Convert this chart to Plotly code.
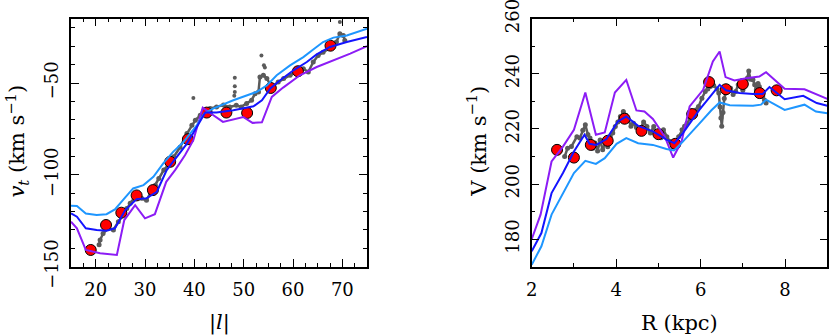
import plotly.graph_objects as go

# Styling
_FONT = "DejaVu Serif"
_GRAY = "#5b5b5b"
_LIGHT_BLUE = "#1e96ff"
_BLUE = "#1414ff"
_PURPLE = "#8c1cf5"
_W, _H = 830, 335

# --- Left panel: v_t vs |l| ---
red_l_x = [19.0, 22.1, 25.2, 28.3, 31.6, 35.1, 38.7, 42.5, 46.5, 50.7, 55.5, 61.0, 67.6]
red_l_y = [-140.9, -127.3, -120.6, -111.2, -108.3, -92.9, -80.6, -66.1, -66.1, -66.3, -52.7, -43.6, -29.7]

lblue_l_x = [15, 16.2, 18.0, 20.2, 22.2, 23.9, 26.0, 27.6, 29.7, 31.7, 33.7, 35.7, 37.8, 40.5, 42.0,
             43.8, 47.9, 50.6, 52.6, 54.7, 56.7, 59.4, 62.1, 64.1, 66.1, 68.2, 70.9, 75]
lblue_l_y = [-116.8, -117.0, -121.0, -121.9, -121.4, -118.8, -112.3, -107.4, -105.6, -101.1, -93.8, -87.5,
             -82.1, -73.0, -66.6, -63.9, -59.4, -56.7, -54.9, -51.3, -45.8, -40.4, -35.9, -31.8, -27.7,
             -25.3, -24.1, -20.4]

blue_l_x = [15, 16.2, 18.0, 20.2, 22.2, 23.9, 26.0, 28.3, 30.3, 32.4, 34.4, 36.5, 38.5, 40.5, 42.2,
            44.5, 47.9, 52.0, 53.7, 55.4, 57.4, 60.1, 62.8, 64.8, 67.5, 70.9, 75]
blue_l_y = [-121.0, -122.8, -129.1, -130.0, -130.4, -129.1, -119.2, -113.2, -112.8, -109.2, -97.4, -90.2,
            -83.0, -73.9, -66.1, -66.1, -64.8, -62.7, -59.4, -53.0, -48.5, -43.1, -38.6, -34.4, -30.4,
            -27.7, -25.0]

purple_l_x = [15, 16.2, 18.0, 20.9, 24.3, 25.8, 28.0, 30.0, 32.0, 34.3, 36.1, 38.1, 39.8, 41.7, 43.2,
              45.8, 49.9, 51.8, 53.7, 55.7, 58.0, 61.4, 64.8, 68.2, 71.6, 75]
purple_l_y = [-125.5, -129.1, -140.9, -142.7, -143.6, -124.6, -116.5, -123.7, -121.4, -103.8, -97.4, -89.3,
              -81.1, -63.4, -66.3, -71.2, -68.5, -71.7, -71.4, -57.6, -52.5, -45.8, -41.3, -37.7, -34.0,
              -30.0]

gray_l_x = [20.7, 20.9, 21.5, 22.6, 23.6, 24.6, 25.6, 26.3, 27.0, 28.0, 29.3, 30.3, 31.1, 32.1, 32.8,
            33.8, 34.7, 35.8, 37.1, 38.5, 39.5, 40.2, 41.2, 43.2, 44.5, 45.9, 47.2, 48.5, 49.5, 50.6,
            51.6, 52.3, 53.0, 53.3, 54.0, 54.7, 55.7, 57.0, 58.1, 59.4, 60.8, 62.1, 63.1, 64.1, 65.1,
            66.1, 67.8, 68.8, 69.5, 70.2, 70.5]
gray_l_y = [-138.0, -135.5, -131.9, -129.0, -130.0, -125.5, -121.9, -118.3, -115.5, -112.0, -112.8, -113.8,
            -110.0, -105.6, -102.0, -97.4, -94.7, -90.2, -85.0, -77.5, -73.0, -70.3, -67.6, -63.9, -63.0,
            -62.0, -63.0, -62.1, -63.0, -61.2, -59.4, -55.8, -54.9, -46.7, -45.8, -47.6, -52.2, -49.5,
            -47.6, -45.8, -44.0, -42.2, -44.0, -38.6, -35.0, -33.2, -30.4, -27.7, -23.2, -24.1, -26.8]

stray_l_x = [39.8, 48.2, 48.2, 48.2, 48.1, 53.6, 54.1, 54.3, 69.5]
stray_l_y = [-58.1, -47.1, -51.8, -54.9, -57.0, -35.0, -40.4, -41.5, -16.8]

# --- Right panel: V vs R ---
red_r_x = [2.6, 3.0, 3.4, 3.8, 4.2, 4.6, 5.0, 5.4, 5.8, 6.2, 6.6, 7.0, 7.4, 7.8]
red_r_y = [212.4, 209.6, 214.2, 215.7, 223.7, 219.3, 218.1, 214.6, 225.4, 237.0, 234.4, 236.3, 233.0, 234.0]

lblue_r_x = [2.0, 2.23, 2.47, 2.74, 3.0, 3.27, 3.52, 3.73, 4.01, 4.24, 4.52, 4.87, 5.19, 5.37, 5.58,
             5.97, 6.25, 6.45, 6.69, 6.92, 7.24, 7.43, 7.55, 7.99, 8.46, 8.73, 9.0]
lblue_r_y = [170.7, 177.4, 188.9, 196.7, 204.0, 208.4, 207.3, 209.4, 214.6, 216.7, 214.8, 214.2, 212.7,
             212.2, 215.4, 221.9, 226.7, 229.6, 228.6, 228.5, 228.4, 228.8, 230.6, 226.9, 228.8, 226.3,
             225.7]

blue_r_x = [2.0, 2.23, 2.47, 2.74, 3.0, 3.25, 3.37, 3.53, 3.77, 4.04, 4.24, 4.52, 4.87, 5.19, 5.38,
            5.58, 5.97, 6.29, 6.45, 6.6, 6.92, 7.24, 7.47, 7.63, 7.99, 8.43, 8.75, 9.0]
blue_r_y = [175.6, 182.2, 196.7, 204.0, 211.8, 217.9, 214.6, 214.2, 216.3, 222.7, 224.5, 221.1, 219.1,
            216.1, 214.8, 218.5, 226.9, 233.0, 236.0, 234.0, 233.0, 232.7, 232.7, 235.2, 230.8, 232.0,
            229.4, 228.4]

purple_r_x = [2.0, 2.21, 2.47, 2.74, 3.0, 3.27, 3.52, 3.73, 3.97, 4.24, 4.48, 4.67, 4.87, 5.15, 5.35,
              5.55, 5.74, 6.06, 6.29, 6.45, 6.59, 6.8, 7.08, 7.39, 7.55, 7.99, 8.46, 9.0]
purple_r_y = [180.0, 188.9, 208.2, 213.6, 219.7, 233.2, 217.9, 218.7, 233.2, 237.8, 226.7, 226.3, 223.6,
              217.3, 209.6, 215.5, 228.2, 234.2, 244.5, 248.1, 238.8, 237.6, 238.4, 239.0, 240.6, 234.6,
              234.4, 230.9]

gray_r_x = [2.78, 2.85, 2.94, 3.07, 3.14, 3.21, 3.27, 3.33, 3.38, 3.45, 3.5, 3.56, 3.62, 3.68, 3.74,
            3.8, 3.86, 3.92, 3.98, 4.04, 4.1, 4.17, 4.23, 4.29, 4.35, 4.41, 4.48, 4.57, 4.65, 4.73,
            4.81, 4.89, 4.95, 5.0, 5.06, 5.12, 5.2, 5.28, 5.34, 5.4, 5.48, 5.56, 5.62, 5.68, 5.76,
            5.83, 5.9, 5.95, 6.03, 6.11, 6.17, 6.23, 6.31, 6.39, 6.43, 6.46, 6.48, 6.5, 6.53, 6.56,
            6.59, 6.65, 6.71, 6.77, 6.83, 6.89, 6.94, 7.0, 7.06, 7.11, 7.14, 7.18, 7.24, 7.28, 7.32,
            7.36, 7.39, 7.43, 7.47, 7.51, 7.55]
gray_r_y = [210.0, 213.0, 213.6, 217.2, 216.7, 219.5, 221.5, 218.0, 216.7, 213.0, 214.9, 212.0, 216.0,
            212.4, 214.8, 213.5, 217.2, 218.5, 220.9, 222.5, 224.5, 226.3, 225.0, 223.3, 221.0, 222.1,
            220.5, 219.7, 222.5, 220.9, 218.5, 220.9, 217.5, 219.0, 216.8, 219.7, 217.2, 215.4, 213.5,
            214.2, 217.2, 219.7, 221.0, 222.1, 223.9, 225.7, 227.0, 228.1, 231.1, 233.6, 234.5, 235.4,
            235.8, 234.5, 233.0, 228.0, 224.0, 221.0, 226.0, 231.0, 233.0, 234.0, 234.8, 232.5, 233.6,
            236.0, 235.4, 234.0, 236.6, 238.5, 241.0, 238.0, 237.8, 236.0, 234.2, 236.5, 235.4, 233.0,
            231.8, 230.5, 229.4]


def _px(x):
    return x / _W


def _py(y):
    return 1 - y / _H


def _add_panel(fig, xa, ya, gx, gy, sx, sy, rx, ry, lines):
    fig.add_trace(go.Scatter(x=gx, y=gy, mode="lines+markers", xaxis=xa, yaxis=ya,
                             line=dict(color=_GRAY, width=2.5),
                             marker=dict(color=_GRAY, size=5), hoverinfo="skip"))
    if sx:
        fig.add_trace(go.Scatter(x=sx, y=sy, mode="markers", xaxis=xa, yaxis=ya,
                                 marker=dict(color=_GRAY, size=4), hoverinfo="skip"))
    fig.add_trace(go.Scatter(x=rx, y=ry, mode="markers", xaxis=xa, yaxis=ya,
                             marker=dict(color="#ff0000", size=11,
                                         line=dict(color="black", width=1))))
    for lx, ly, color in lines:
        fig.add_trace(go.Scatter(x=lx, y=ly, mode="lines", xaxis=xa, yaxis=ya,
                                 line=dict(color=color, width=2)))


def _axis(domain, rng, dtick, minor, anchor, angle=0, standoff=8):
    return dict(
        domain=domain, range=rng, dtick=dtick, tick0=0, anchor=anchor, automargin=False,
        ticks="inside", ticklen=8, tickwidth=1.2, tickcolor="black",
        minor=dict(dtick=minor, ticks="inside", ticklen=4, tickwidth=1.2, tickcolor="black"),
        mirror="allticks", showline=True, linecolor="black", linewidth=1.5,
        showgrid=False, zeroline=False, tickangle=angle, ticklabelstandoff=standoff,
        ticklabeloverflow="allow",
        tickfont=dict(family=_FONT, size=18, color="black"),
    )


fig = go.Figure()
_add_panel(fig, "x", "y", gray_l_x, gray_l_y, stray_l_x, stray_l_y, red_l_x, red_l_y,
           [(purple_l_x, purple_l_y, _PURPLE), (lblue_l_x, lblue_l_y, _LIGHT_BLUE),
            (blue_l_x, blue_l_y, _BLUE)])
_add_panel(fig, "x2", "y2", gray_r_x, gray_r_y, None, None, red_r_x, red_r_y,
           [(purple_r_x, purple_r_y, _PURPLE), (lblue_r_x, lblue_r_y, _LIGHT_BLUE),
            (blue_r_x, blue_r_y, _BLUE)])

ydom = [_py(266.7), _py(18.7)]
fig.update_layout(
    template="none",
    width=_W, height=_H, margin=dict(l=0, r=0, t=0, b=0),
    paper_bgcolor="white", plot_bgcolor="white", showlegend=False, hovermode=False,
    font=dict(family=_FONT, color="black"),
    xaxis=_axis([_px(71), _px(367)], [15, 75], 10, 2.5, "y", standoff=6),
    yaxis=_axis(ydom, [-150, -15], 50, 10, "x", angle=-90, standoff=4),
    xaxis2=_axis([_px(531.7), _px(827.3)], [2, 9], 2, 1, "y2", standoff=6),
    yaxis2=_axis(ydom, [170, 260], 20, 10, "x2", angle=-90, standoff=4),
)

titles = [
    ("|<i>l</i>|", 219, 322, 0),
    ("R (kpc)", 679, 323, 0),
    ("<i>v</i><sub><i>t</i></sub> (km s<sup>−1</sup>)", 16, 141.5, -90),
    ("V (km s<sup>−1</sup>)", 477, 141.7, -90),
]
for text, x, y, angle in titles:
    fig.add_annotation(text=text, x=_px(x), y=_py(y), xref="paper", yref="paper",
                       xanchor="center", yanchor="middle", showarrow=False,
                       textangle=angle, font=dict(family=_FONT, size=21, color="black"))

# drop the browser's default 8px body margin so the figure sits at the page corner
fig.write_html("out.html", config={"displayModeBar": False},
               post_script="document.body.style.margin = '0px';")
